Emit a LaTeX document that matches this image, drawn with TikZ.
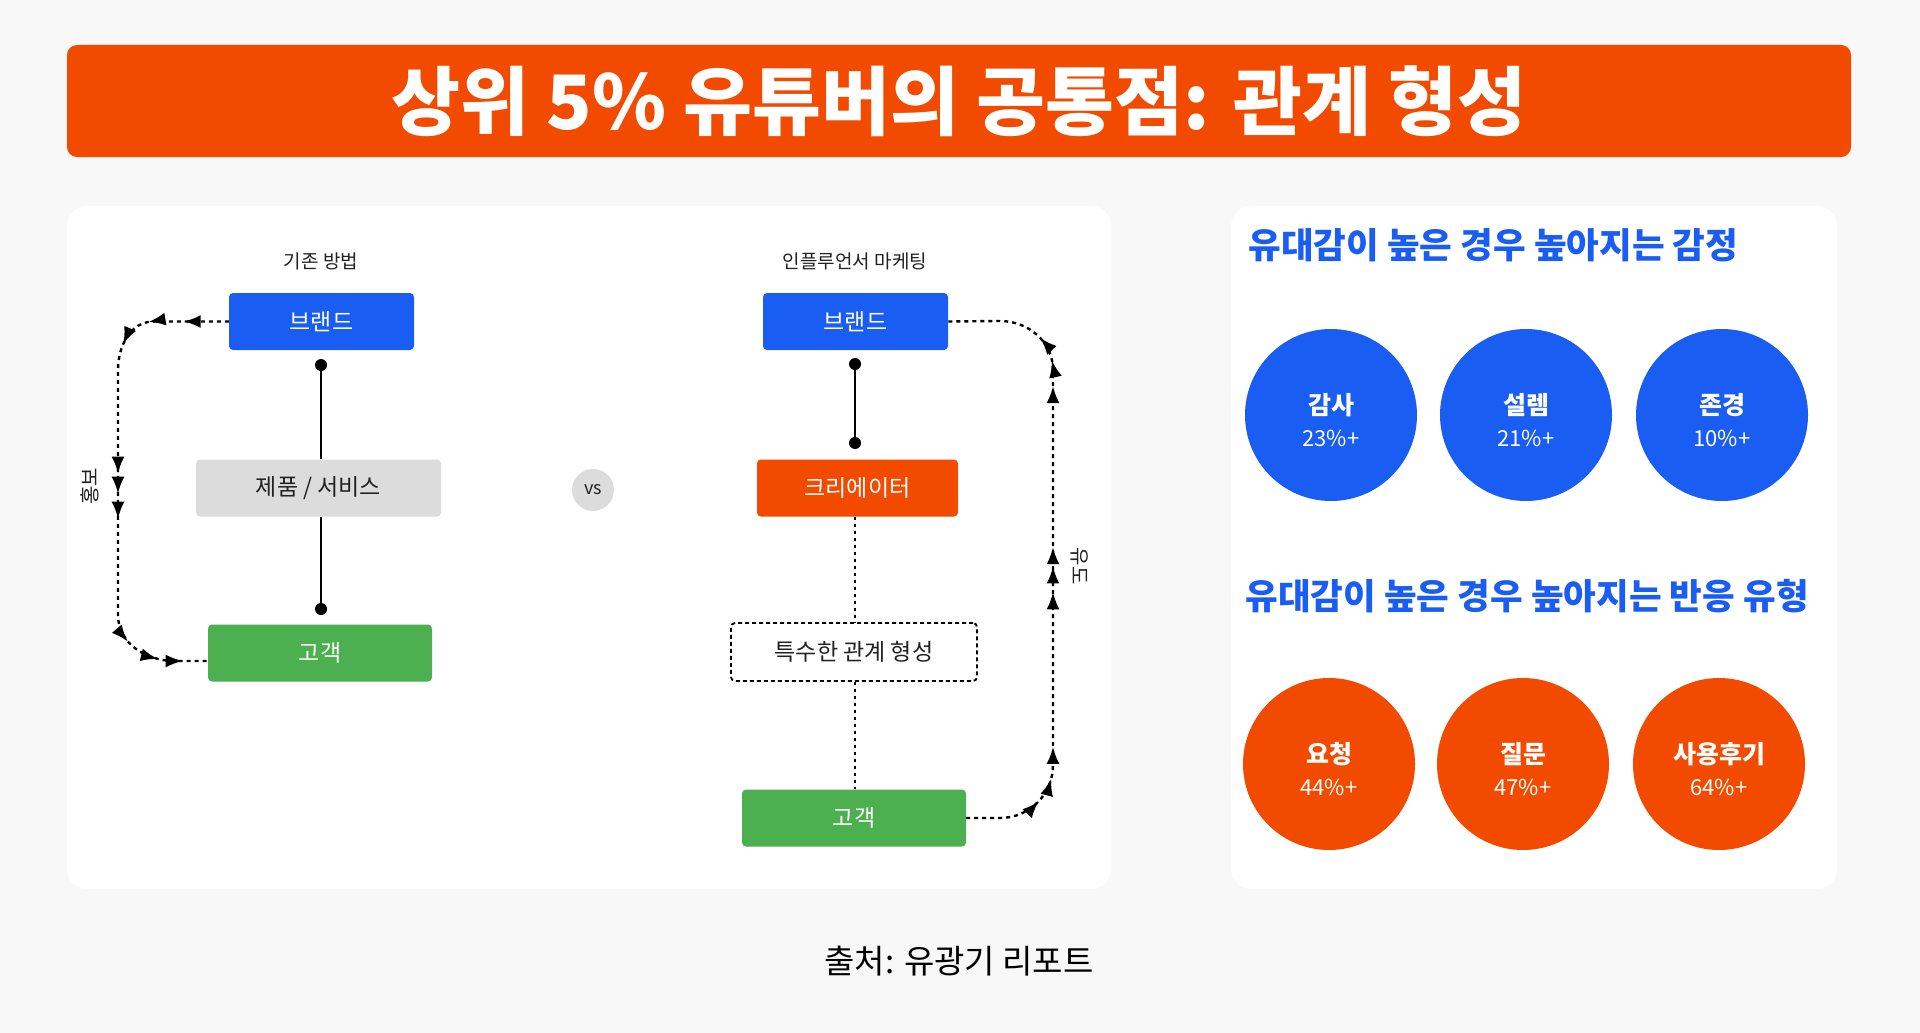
\documentclass[tikz,border=0pt]{standalone}
\usepackage{fontspec}
\setmainfont{Noto Sans CJK KR}
\usetikzlibrary{arrows.meta,decorations.markings}
\definecolor{bg}{HTML}{F8F8F8}
\definecolor{org}{HTML}{F24B00}
\definecolor{blu}{HTML}{1A5DF2}
\definecolor{grn}{HTML}{4CAF50}
\definecolor{gry}{HTML}{DCDCDC}
\definecolor{txt}{HTML}{222222}
\newcommand{\fs}[1]{\fontsize{#1}{#1}\selectfont}
\pgfkeys{/pgf/decoration/ar/.style={mark=at position #1 with {\arrow{Latex[length=17pt,width=13pt]}}}}
\tikzset{
 boxx/.style={rounded corners=4pt,minimum height=57pt,font=\fs{23},inner sep=0pt},
 dotend/.style={circle,fill=black,inner sep=0pt,minimum size=12pt},
 flow/.style={line width=2.4pt,dash pattern=on 4pt off 4pt},
 bubble/.style={circle,minimum size=172pt,inner sep=0pt},
}
\begin{document}
\begin{tikzpicture}[x=1pt,y=-1pt]
\fill[bg] (0,0) rectangle (1920,1033);
\useasboundingbox (0,0) rectangle (1920,1033);
% title
\node[fill=org,rounded corners=10pt,minimum width=1784pt,minimum height=112pt,text=white,font=\bfseries\fs{75}] (title) at (959,101) {상위 5\% 유튜버의 공통점: 관계 형성};
% panels
\fill[white,rounded corners=20pt] (67,206) rectangle (1111,889);
\fill[white,rounded corners=20pt] (1231,206) rectangle (1837,889);
% left diagram
\node[font=\fs{19},text=txt] (lt) at (321,261) {기존 방법};
\node[boxx,fill=blu,text=white,minimum width=185pt] (b1) at (321.5,321.5) {브랜드};
\node[boxx,fill=gry,text=txt,minimum width=245pt] (p1) at (318.5,488) {제품 / 서비스};
\node[boxx,fill=grn,text=white,minimum width=224pt] (c1) at (320,653) {고객};
\node[dotend] (d1) at (321,365) {};
\node[dotend] (d2) at (321,609) {};
\draw[line width=2.5pt] (d1.center) -- (d1|-p1.north);
\draw[line width=2.5pt] (d2|-p1.south) -- (d2.center);
\coordinate (l2) at (118,661);
\draw[flow,postaction={decorate},decoration={markings,ar=0.09,ar=0.16,ar=0.23,ar=0.49,ar=0.53,ar=0.58,ar=0.83,ar=0.9,ar=0.95}]
  (b1.west) -- ++(-75,0) to[out=180,in=90] (118,370) -- (118,615) to[out=-90,in=180] (175,661) -- (c1.west|-l2);
\node[rotate=90,font=\fs{20},text=txt] (hb) at (90,486) {홍보};
% vs
\node[circle,fill=gry,minimum size=42pt,inner sep=0pt,font=\fs{18},text=txt] (vs) at (593,490) {vs};
% right diagram
\node[font=\fs{19},text=txt] (rt) at (855,261) {인플루언서 마케팅};
\node[boxx,fill=blu,text=white,minimum width=185pt] (b2) at (855.5,321.5) {브랜드};
\node[boxx,fill=org,text=white,minimum width=201pt] (cr) at (857.5,488) {크리에이터};
\node[boxx,draw=black,dash pattern=on 4pt off 3pt,line width=1.8pt,fill=white,text=txt,minimum width=246pt,minimum height=58pt] (sp) at (854,652) {특수한 관계 형성};
\node[boxx,fill=grn,text=white,minimum width=224pt] (c2) at (854,818) {고객};
\node[dotend] (d3) at (855,364) {};
\node[dotend] (d4) at (855,443) {};
\draw[line width=2.5pt] (d3) -- (d4);
\draw[line width=2.2pt,dash pattern=on 3pt off 4pt] (d4|-cr.south) -- (d4|-sp.north);
\draw[line width=2.2pt,dash pattern=on 3pt off 4pt] (d4|-sp.south) -- (d4|-c2.north);
\draw[flow,postaction={decorate},decoration={markings,ar=0.12,ar=0.16,ar=0.21,ar=0.45,ar=0.49,ar=0.52,ar=0.77,ar=0.81,ar=0.85}]
  (c2.east) -- (1000,818) to[out=0,in=-90] (1053,765) -- (1053,370) to[out=90,in=0] (1000,321) -- (b2.east);
\node[rotate=-90,font=\fs{20},text=txt] (yd) at (1080,566) {유도};
% right panel
\node[anchor=west,text=blu,font=\bfseries\fs{35.5}] (h1) at (1245,245) {유대감이 높은 경우 높아지는 감정};
\node[anchor=west,text=blu,font=\bfseries\fs{35.5}] (h2) at (1242,596) {유대감이 높은 경우 높아지는 반응 유형};
\foreach \n/\x/\a/\b in {e1/1331/감사/23\%+, e2/1526/설렘/21\%+, e3/1722/존경/10\%+}{
  \node[bubble,fill=blu] (\n) at (\x,415) {};
  \node[text=white,font=\bfseries\fs{25}] at (\x,405) {\a};
  \node[text=white,font=\fs{22}] at (\x,438) {\b};
}
\foreach \n/\x/\a/\b in {r1/1329/요청/44\%+, r2/1523/질문/47\%+, r3/1719/사용후기/64\%+}{
  \node[bubble,fill=org] (\n) at (\x,764) {};
  \node[text=white,font=\bfseries\fs{25}] at (\x,754) {\a};
  \node[text=white,font=\fs{22}] at (\x,787) {\b};
}
% caption
\node[text=black,font=\fs{33}] (cap) at (959,961) {출처: 유광기 리포트};
\end{tikzpicture}
\end{document}
